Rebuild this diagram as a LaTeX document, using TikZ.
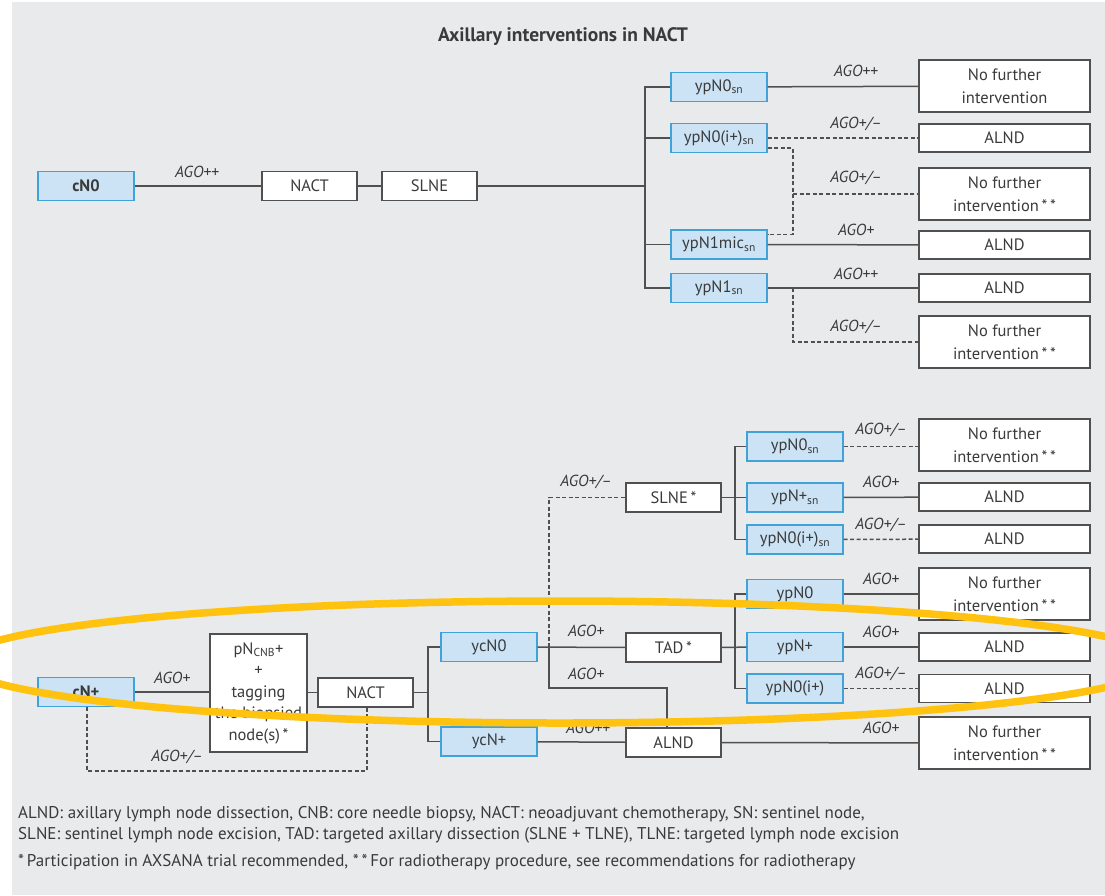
\documentclass[tikz,border=0pt]{standalone}
\usepackage{fontspec}
\setmainfont{PT Sans}
\definecolor{panel}{HTML}{E9EAEC}
\definecolor{boxline}{HTML}{505050}
\definecolor{lblue}{HTML}{CBE3F4}
\definecolor{mblue}{HTML}{40A2D8}
\definecolor{txt}{HTML}{3A3A3A}
\definecolor{hl}{HTML}{FFC20E}
\tikzset{
  box/.style={draw=boxline, fill=white, line width=1.4pt, minimum width=96pt, minimum height=29pt, inner sep=0pt, align=center, text=txt, font=\fontsize{16.5}{23}\selectfont},
  bbox/.style={box, fill=lblue, draw=mblue},
  wbox/.style={box, minimum width=171pt, minimum height=28pt},
  tbox/.style={box, minimum width=171pt, minimum height=52pt},
  lab/.style={text=txt, font=\fontsize{16}{18}\selectfont\itshape, inner sep=0pt},
  conn/.style={draw=boxline, line width=1.5pt},
  dconn/.style={conn, dash pattern=on 4pt off 2.5pt},
  foot/.style={text=txt, font=\fontsize{17}{19}\selectfont, anchor=base west, inner sep=0pt}
}
\newcommand{\nfi}{No further\\intervention\,*\,*}
\begin{document}
\begin{tikzpicture}[x=1pt,y=-1pt]
\useasboundingbox (0,0) rectangle (1105,895);
\fill[white] (0,0) rectangle (1105,895);
\fill[panel] (12,2) rectangle (1105,895);
\node[text=txt, font=\fontsize{19.5}{22}\selectfont\bfseries] (title) at (563,37) {Axillary interventions in NACT};
% ---------- top ----------
\node[bbox, font=\fontsize{16.5}{23}\selectfont\bfseries] (cN0) at (86,186) {cN0};
\node[box, minimum width=95pt] (nact1) at (309.5,186) {NACT};
\node[box, minimum width=95pt] (slne1) at (429.5,186) {SLNE};
\node[bbox] (t1) at (719,87) {ypN0\textsubscript{sn}};
\node[bbox] (t2) at (719,138) {ypN0(i+)\textsubscript{sn}};
\node[bbox] (t3) at (719,244.5) {ypN1mic\textsubscript{sn}};
\node[bbox] (t4) at (719,288) {ypN1\textsubscript{sn}};
\node[tbox] (r1) at (1004.5,86) {No further\\intervention};
\node[wbox] (r2) at (1004.5,138) {ALND};
\node[tbox] (r3) at (1004.5,194) {\nfi};
\node[wbox] (r4) at (1004.5,245) {ALND};
\node[wbox] (r5) at (1004.5,288) {ALND};
\node[tbox] (r6) at (1004.5,342) {\nfi};
\coordinate (j1) at (645,186);
\coordinate (d1) at (793,194);
\coordinate (d2) at (793,288);
\draw[conn] (cN0) -- (nact1);
\draw[conn] (nact1) -- (slne1);
\draw[conn] (slne1) -- (j1);
\draw[conn] (t1.west) -| (j1) |- (t4.west);
\draw[conn] (t2.west) -- (t2.west -| j1);
\draw[conn] (t3.west) -- (t3.west -| j1);
\draw[conn] (t1) -- (r1);
\draw[dconn] (t2) -- (r2);
\draw[dconn] ([yshift=5pt]t2.south east) -| (d1) |- ([yshift=-5pt]t3.north east);
\draw[dconn] (d1) -- (r3);
\draw[conn] (t3) -- (r4);
\draw[conn] (t4) -- (r5);
\draw[dconn] (d2) |- (r6.west);
\node[lab] (l1) at (197,172) {AGO++};
\node[lab] (l2) at (856,71) {AGO++};
\node[lab] (l3) at (856,124) {AGO+/–};
\node[lab] (l4) at (856,178) {AGO+/–};
\node[lab] (l5) at (856,230) {AGO+};
\node[lab] (l6) at (856,274) {AGO++};
\node[lab] (l7) at (856,327) {AGO+/–};
% ---------- bottom ----------
\node[bbox, font=\fontsize{16.5}{23}\selectfont\bfseries] (cNp) at (86,692) {cN+};
\node[box, minimum width=97pt, minimum height=118pt, font=\fontsize{16.5}{21.5}\selectfont] (pN) at (258.5,693) {pN\textsubscript{CNB}+\\+\\tagging\\the biopsied\\node(s)\,*};
\node[box, minimum width=95pt] (nact2) at (365.5,692.5) {NACT};
\node[bbox] (ycN0) at (489,647) {ycN0};
\node[bbox] (ycNp) at (489,741.5) {ycN+};
\node[box, minimum width=95pt] (slne2) at (673.5,497.5) {SLNE\,*};
\node[box, minimum width=95pt] (tad) at (673.5,647.5) {TAD\,*};
\node[box, minimum width=95pt] (alnd2) at (673.5,742.5) {ALND};
\node[bbox] (b1) at (795,446.5) {ypN0\textsubscript{sn}};
\node[bbox] (b2) at (795,497.5) {ypN+\textsubscript{sn}};
\node[bbox] (b3) at (795,539.5) {ypN0(i+)\textsubscript{sn}};
\node[bbox] (b4) at (795,594) {ypN0};
\node[bbox] (b5) at (795,647) {ypN+};
\node[bbox] (b6) at (795,688.5) {ypN0(i+)};
\node[tbox] (R1) at (1004.5,445) {\nfi};
\node[wbox] (R2) at (1004.5,497) {ALND};
\node[wbox] (R3) at (1004.5,539) {ALND};
\node[tbox] (R4) at (1004.5,594) {\nfi};
\node[wbox] (R5) at (1004.5,647) {ALND};
\node[wbox] (R6) at (1004.5,688.5) {ALND};
\node[tbox] (R7) at (1004.5,743) {\nfi};
\coordinate (j3) at (428,692.5);
\coordinate (c1) at (87,771);
\coordinate (c2) at (367,771);
\coordinate (j4) at (549,647);
\coordinate (j5) at (667,688);
\coordinate (j6) at (735,497.5);
\coordinate (j7) at (735,647);
\draw[conn] (cNp) -- (cNp -| pN.west);
\draw[conn] (pN.east |- nact2) -- (nact2);
\draw[conn] (nact2) -- (j3);
\draw[conn] (ycN0.west) -| (j3) |- (ycNp.west);
\draw[dconn] (cNp.south -| c1) -- (c1) -- (c2) -- (nact2.south -| c2);
\draw[conn] (ycN0) -- (tad);
\draw[dconn] (j4) |- (slne2.west);
\draw[conn] (j4) |- (j5) -- (alnd2.north -| j5);
\draw[conn] (ycNp) -- (alnd2);
\draw[conn] (alnd2) -- (R7);
\draw[conn] (slne2) -- (b2);
\draw[conn] (b1.west) -| (j6) |- (b3.west);
\draw[conn] (tad) -- (b5);
\draw[conn] (b4.west) -| (j7) |- (b6.west);
\draw[dconn] (b1) -- (R1.west |- b1);
\draw[conn] (b2) -- (R2);
\draw[dconn] (b3) -- (R3);
\draw[conn] (b4) -- (R4);
\draw[conn] (b5) -- (R5);
\draw[dconn] (b6) -- (R6);
\node[lab] (m1) at (172,678) {AGO+};
\node[lab] (m2) at (177,757) {AGO+/–};
\node[lab] (m3) at (586,482) {AGO+/–};
\node[lab] (m4) at (586,631) {AGO+};
\node[lab] (m5) at (586,674) {AGO+};
\node[lab] (m6) at (588,728) {AGO++};
\node[lab] (m7) at (881,430) {AGO+/–};
\node[lab] (m8) at (881,482) {AGO+};
\node[lab] (m9) at (881,525) {AGO+/–};
\node[lab] (m10) at (881,579) {AGO+};
\node[lab] (m11) at (881,632) {AGO+};
\node[lab] (m12) at (881,674) {AGO+/–};
\node[lab] (m13) at (881,728) {AGO+};
% ---------- highlight ----------
\draw[hl, line width=7.5pt] (560,662) ellipse [x radius=600, y radius=61];
% ---------- footer ----------
\node[foot] (f1) at (18,818) {ALND: axillary lymph node dissection, CNB: core needle biopsy, NACT: neoadjuvant chemotherapy, SN: sentinel node,};
\node[foot] (f2) at (18,839) {SLNE: sentinel lymph node excision, TAD: targeted axillary dissection (SLNE + TLNE), TLNE: targeted lymph node excision};
\node[foot] (f3) at (18,866) {*\,Participation in AXSANA trial recommended, *\,*\,For radiotherapy procedure, see recommendations for radiotherapy};
\end{tikzpicture}
\end{document}
